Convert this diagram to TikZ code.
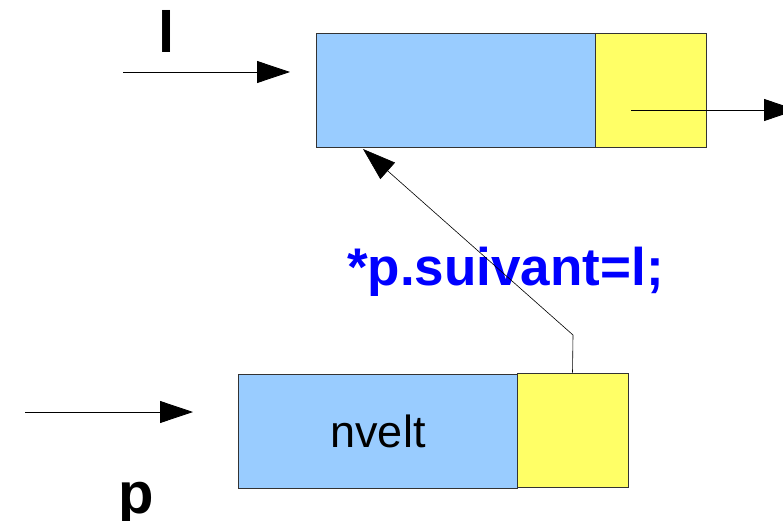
\documentclass[tikz,border=0pt]{standalone}
\usepackage{fontspec}
\setmainfont{Liberation Sans}
\usetikzlibrary{arrows.meta}
\definecolor{cellblue}{HTML}{99CCFF}
\definecolor{cellyellow}{HTML}{FFFF66}
\definecolor{codeblue}{HTML}{0000FF}
\begin{document}
\begin{tikzpicture}[x=1pt,y=-1pt,
 cell/.style={draw=black!80, line width=0.8pt, inner sep=0, minimum height=114pt},
 datacell/.style={cell, fill=cellblue, minimum width=279pt},
 linkcell/.style={cell, fill=cellyellow, minimum width=111pt},
 ptr/.style={draw=black, line width=0.8pt, -{Triangle[length=33pt,width=22pt]}},
 varlabel/.style={font=\fontsize{58}{64}\selectfont\bfseries, inner sep=0, anchor=base west},
]
\useasboundingbox (0,0) rectangle (783,521);
\node[datacell] (ta) at (455.5,90) {};
\node[linkcell] (tb) at (650.5,90) {};
\node[datacell, font=\fontsize{45}{50}\selectfont, text height=33pt, text depth=0pt] (ba) at (378,431) {nvelt};
\node[linkcell] (bb) at (572.5,430) {};
\node[varlabel] (lv) at (158,53) {l};
\node[varlabel] (pv) at (118,513) {p};
\node[font=\fontsize{53}{60}\selectfont\bfseries, text=codeblue, inner sep=0, anchor=base west] (code) at (347,285) {*p.suivant=l;};
\coordinate (ls) at (123,72);
\coordinate (le) at (290,72);
\coordinate (ps) at (25,412);
\coordinate (pe) at (193,412);
\coordinate (ns) at (631,110);
\coordinate (ne) at (797,110);
\coordinate (bend) at (573,335);
\coordinate (tip) at (363,149);
\draw[ptr] (ls) -- (le);
\draw[ptr] (ps) -- (pe);
\draw[ptr] (ns) -- (ne);
\draw[ptr, line width=0.6pt] (bb.north) -- (bend) -- (tip);
\end{tikzpicture}
\end{document}
